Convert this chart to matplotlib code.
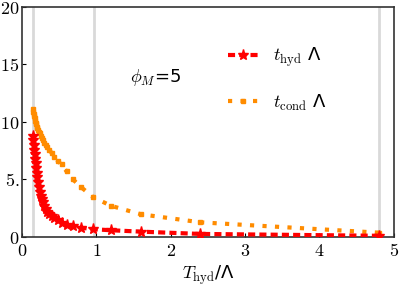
import matplotlib
matplotlib.use("Agg")
import matplotlib.pyplot as plt

plt.rcParams['mathtext.fontset'] = 'cm'
plt.rcParams['font.family'] = ['DejaVu Sans']

# x values (T_hyd / Lambda)
n_idx = list(range(1, 33))
T_hyd = [4.8 / n for n in n_idx]
# t_hyd * Lambda
t_hyd = [0.1, 0.26, 0.46, 0.58, 0.67, 0.8, 0.92, 1.05, 1.25, 1.45,
         1.65, 1.85, 2.0, 2.2, 2.4, 2.7, 3.0, 3.3, 3.6, 3.9,
         4.3, 4.8, 5.2, 5.6, 6.0, 6.4, 6.8, 7.2, 7.6, 8.0, 8.4, 8.8]
# t_cond * Lambda
t_cond = [0.37, 1.27, 1.97, 2.7, 3.45, 4.3, 5.0, 5.7, 6.3, 6.6,
          6.95, 7.3, 7.55, 7.8, 8.0, 8.2, 8.4, 8.6, 8.8, 9.0,
          9.15, 9.3, 9.45, 9.6, 9.78, 9.95, 10.1, 10.3, 10.5, 10.7, 10.9, 11.1]
vlines = [0.144, 0.97, 4.8]
xticks = [0, 1, 2, 3, 4, 5]
yticks = [0, 5, 10, 15, 20]
yticklabels = ["$0$", "$5.$", "$10$", "$15$", "$20$"]
xticklabels = ["$0$", "$1$", "$2$", "$3$", "$4$", "$5$"]

fig = plt.figure(figsize=(3.99, 2.90), dpi=100)
ax = fig.add_axes([0.055, 0.183, 0.932, 0.793])

for v in vlines:
    ax.axvline(v, color='#d9d9d9', lw=2, zorder=0)

ax.plot(T_hyd, t_hyd, color='red', ls=(0, (1.7, 1.0)), lw=3, marker='*',
        markersize=8, label=r"$t_{\rm hyd}$ Λ", zorder=3)
ax.plot(T_hyd, t_cond, color='#ff8c00', ls=(0, (1, 2)), lw=3, marker='s',
        markersize=3.5, label=r"$t_{\rm cond}$ Λ", zorder=2)

ax.set_xlim(0, 5)
ax.set_ylim(0, 20)
ax.set_xticks(xticks)
ax.set_xticklabels(xticklabels, fontsize=13)
ax.set_yticks(yticks)
ax.set_yticklabels(yticklabels, fontsize=13)
ax.tick_params(direction='in', length=3)
ax.tick_params(axis='x', pad=4)
ax.tick_params(axis='y', pad=2)
for s in ax.spines.values():
    s.set_color('#333333')
    s.set_linewidth(1.2)

ax.set_xlabel(r"$T_{\rm hyd}$/Λ", fontsize=13, labelpad=2)
ax.text(1.45, 13.9, r"$\phi_M$=5", fontsize=13, va='center')

ax.legend(frameon=False, loc='upper left', bbox_to_anchor=(0.51, 0.905),
          fontsize=13, labelspacing=1.3, handlelength=1.7, handletextpad=0.8)

fig.savefig("out.png", dpi=100)
